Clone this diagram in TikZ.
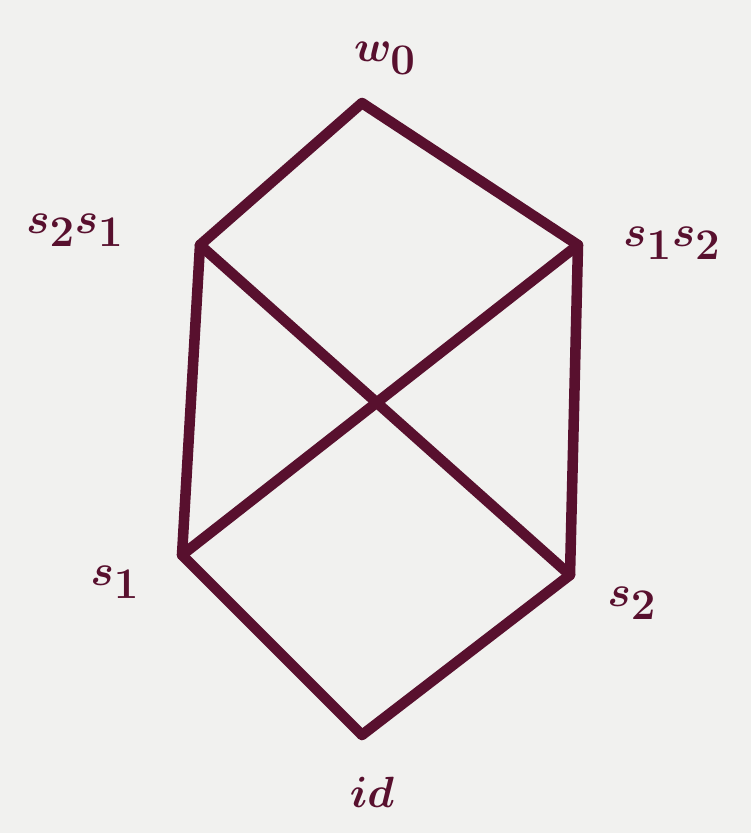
\documentclass[tikz,border=0pt]{standalone}
\usepackage{amsmath}
\usepackage{tikz}
\usepackage{xcolor}
\usetikzlibrary{calc}
\definecolor{ink}{HTML}{58102E}
\definecolor{paper}{HTML}{F1F1EF}

\begin{document}
\begin{tikzpicture}[x=0.02cm,y=-0.02cm]
    \tikzset{
        edge/.style={ink,line width=6pt,line cap=round,line join=round},
        lab/.style={ink,font=\fontsize{60}{70}\selectfont\boldmath}
    }
    \fill[paper] (0,0) rectangle (751,833);
    \useasboundingbox (0,0) rectangle (751,833);
    % vertices of the order
    \coordinate (w0) at (362,103);
    \coordinate (s21) at (200,245);
    \coordinate (s12) at (578,245);
    \coordinate (s1) at (182,555);
    \coordinate (s2) at (570,575);
    \coordinate (id) at (362,735);
    % labels
    \node[lab] (lw0) at (385,58) {$w_0$};
    \node[lab] (ls21) at (75,230) {$s_2s_1$};
    \node[lab] (ls12) at (672,243) {$s_1s_2$};
    \node[lab] (ls1) at (115,582) {$s_1$};
    \node[lab] (ls2) at (632,603) {$s_2$};
    \node[lab] (lid) at (372,792) {$id$};
    % covering relations
    \draw[edge] (w0) -- (s21);
    \draw[edge] (w0) -- (s12);
    \draw[edge] (s21) -- (s1);
    \draw[edge] (s21) -- (s2);
    \draw[edge] (s12) -- (s1);
    \draw[edge] (s12) -- (s2);
    \draw[edge] (s1) -- (id);
    \draw[edge] (s2) -- (id);
\end{tikzpicture}
\end{document}
